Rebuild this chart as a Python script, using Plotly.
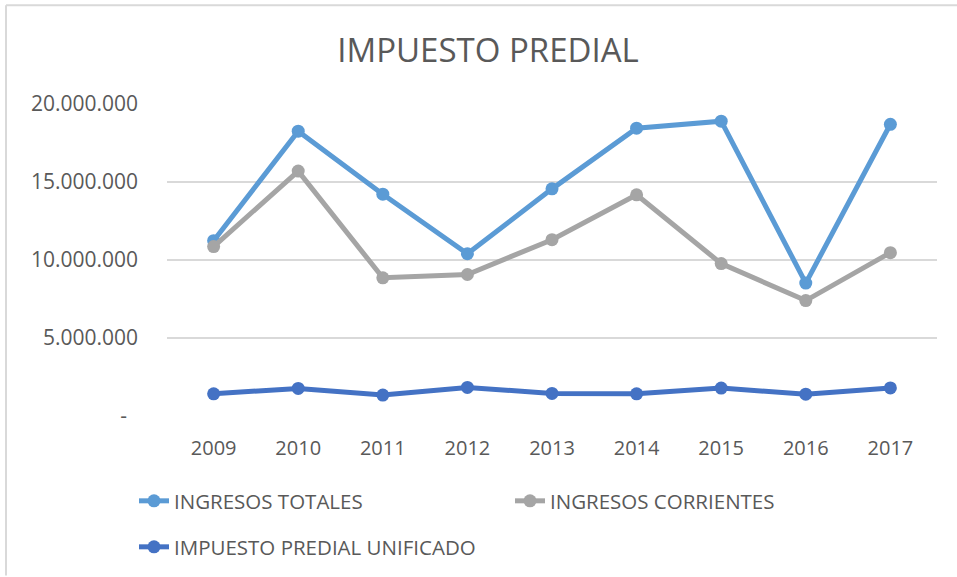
import plotly.graph_objects as go

years = ["2009", "2010", "2011", "2012", "2013", "2014", "2015", "2016", "2017"]
ingresos_totales = [11.24e6, 18.26e6, 14.22e6, 10.40e6, 14.56e6, 18.45e6, 18.90e6, 8.52e6, 18.70e6]
ingresos_corrientes = [10.86e6, 15.70e6, 8.86e6, 9.07e6, 11.30e6, 14.18e6, 9.77e6, 7.40e6, 10.47e6]
impuesto_predial = [1.42e6, 1.77e6, 1.34e6, 1.83e6, 1.45e6, 1.42e6, 1.79e6, 1.40e6, 1.80e6]
tick_vals = [0, 5e6, 10e6, 15e6, 20e6]
tick_text = ["-\u00a0\u00a0", "5.000.000", "10.000.000", "15.000.000", "20.000.000"]

FONT = "Open Sans"
TXT = "#595959"

fig = go.Figure()
fig.add_trace(go.Scatter(x=years, y=ingresos_totales, name="INGRESOS TOTALES",
                         mode="lines+markers", line=dict(color="#5B9BD5", width=5),
                         marker=dict(size=13, color="#5B9BD5"), legend="legend"))
fig.add_trace(go.Scatter(x=years, y=ingresos_corrientes, name="INGRESOS CORRIENTES",
                         mode="lines+markers", line=dict(color="#A5A5A5", width=5),
                         marker=dict(size=13, color="#A5A5A5"), legend="legend"))
fig.add_trace(go.Scatter(x=years, y=impuesto_predial, name="IMPUESTO PREDIAL UNIFICADO",
                         mode="lines+markers", line=dict(color="#4472C4", width=5),
                         marker=dict(size=13, color="#4472C4"), legend="legend2"))

L, T, PW, PH = 167, 104, 770, 313

def px_x(p):
    return (p - L) / PW

def px_y(p):
    return (T + PH - p) / PH

fig.update_layout(
    width=957, height=577,
    margin=dict(l=L, r=957 - L - PW, t=T, b=577 - T - PH),
    paper_bgcolor="white", plot_bgcolor="white",
    font=dict(family=FONT, color=TXT, size=19),
    title=dict(text="IMPUESTO PREDIAL", x=488 / 957, xanchor="center", y=1 - 50 / 577, yanchor="middle",
               font=dict(family=FONT, size=33, color=TXT)),
    xaxis=dict(showgrid=False, zeroline=False, showline=False, ticks="",
               ticklabelstandoff=18, tickfont=dict(size=20, color=TXT)),
    yaxis=dict(range=[0, 20e6], tickvals=tick_vals, ticktext=tick_text,
               showgrid=True, gridcolor="#D9D9D9", gridwidth=1.5, zeroline=False,
               showline=False, ticks="", ticklabelstandoff=28,
               tickfont=dict(size=21, color=TXT)),
    showlegend=True,
    legend=dict(orientation="h", x=px_x(134), xanchor="left", y=px_y(501), yanchor="middle",
                entrywidth=331, entrywidthmode="pixels", font=dict(size=20.5, color=TXT),
                bgcolor="rgba(0,0,0,0)", itemwidth=30),
    legend2=dict(orientation="h", x=px_x(134), xanchor="left", y=px_y(547), yanchor="middle",
                 font=dict(size=20.5, color=TXT), bgcolor="rgba(0,0,0,0)", itemwidth=30),
    shapes=[
        dict(type="line", xref="paper", yref="paper", x0=px_x(6), x1=px_x(957), y0=px_y(5), y1=px_y(5),
             line=dict(color="#D9D9D9", width=2)),
        dict(type="line", xref="paper", yref="paper", x0=px_x(6), x1=px_x(6), y0=px_y(5), y1=px_y(577),
             line=dict(color="#D9D9D9", width=2)),
    ],
)

fig.write_html("out.html", config={"displayModeBar": False},
               post_script="document.body.style.margin='0';document.body.style.overflow='hidden';")
